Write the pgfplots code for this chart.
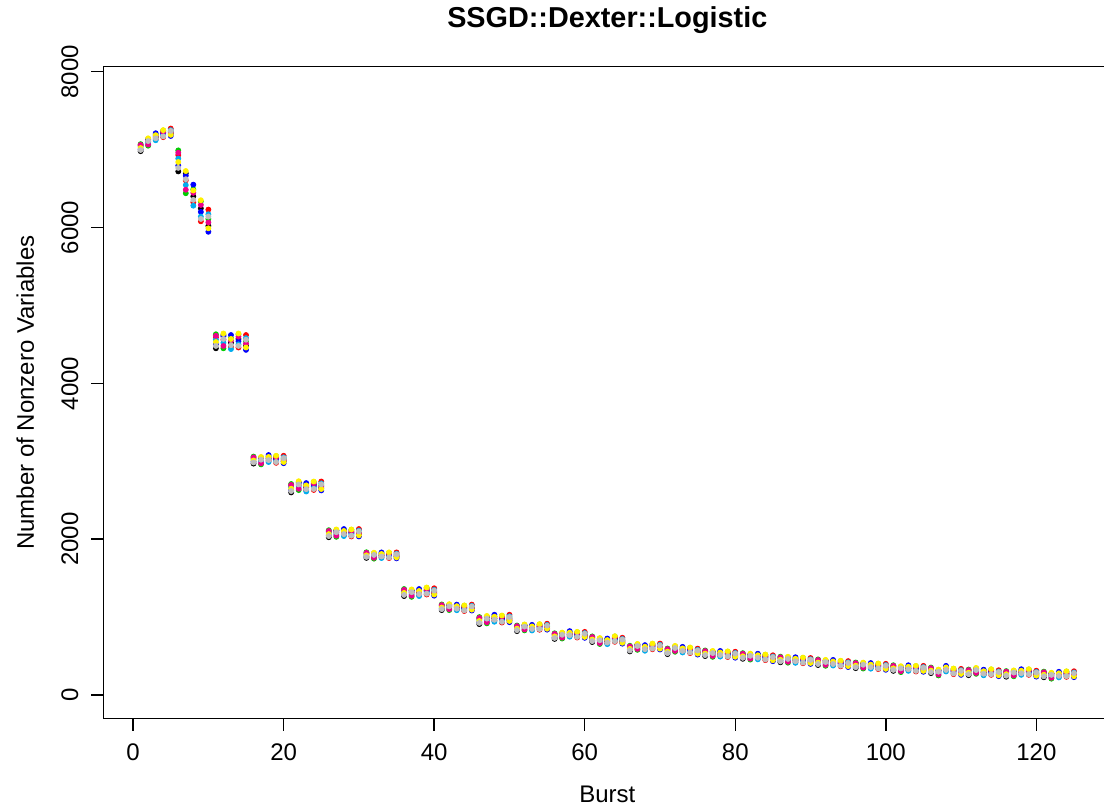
\documentclass[border=0pt]{standalone}
\usepackage{pgfplots}
\pgfplotsset{compat=1.18}
\usepackage{pgfplotstable}
\usepackage{fontspec}
\setmainfont{Liberation Sans}
\definecolor{rgreen}{HTML}{00CD00}
\definecolor{rgray}{HTML}{BEBEBE}
\pgfplotstableread{
b k r g bl c m y gr
1 6980 7050 7070 7005 7035 7060 7020 6995
2 7135 7105 7050 7125 7085 7065 7145 7110
3 7160 7135 7190 7210 7120 7175 7185 7145
4 7215 7160 7245 7200 7180 7230 7250 7170
5 7200 7270 7230 7175 7250 7215 7190 7240
6 6720 6930 6990 6795 6885 6960 6840 6765
7 6695 6605 6440 6665 6545 6485 6725 6620
8 6400 6325 6490 6550 6280 6445 6475 6355
9 6245 6080 6335 6200 6140 6290 6350 6110
10 6020 6230 6110 5945 6170 6065 5990 6140
11 4450 4590 4630 4500 4560 4610 4530 4480
12 4620 4560 4450 4600 4520 4480 4640 4570
13 4520 4470 4580 4620 4440 4550 4570 4490
14 4570 4460 4630 4540 4500 4600 4640 4480
15 4480 4620 4540 4430 4580 4510 4460 4560
16 2970 3040 3060 2995 3025 3050 3010 2985
17 3045 3015 2960 3035 2995 2975 3055 3020
18 3030 3005 3060 3080 2990 3045 3055 3015
19 3035 2980 3065 3020 3000 3050 3070 2990
20 3000 3070 3030 2975 3050 3015 2990 3040
21 2600 2684 2708 2630 2666 2696 2648 2618
22 2732 2696 2630 2720 2672 2648 2744 2702
23 2660 2630 2696 2720 2612 2678 2690 2642
24 2698 2632 2734 2680 2656 2716 2740 2644
25 2656 2740 2692 2626 2716 2674 2644 2704
26 2025 2095 2115 2050 2080 2105 2065 2040
27 2115 2085 2030 2105 2065 2045 2125 2090
28 2080 2055 2110 2130 2040 2095 2105 2065
29 2090 2035 2120 2075 2055 2105 2125 2045
30 2060 2130 2090 2035 2110 2075 2050 2100
31 1760 1816 1832 1780 1804 1824 1792 1772
32 1818 1794 1750 1810 1778 1762 1826 1798
33 1790 1770 1814 1830 1758 1802 1810 1778
34 1802 1758 1826 1790 1774 1814 1830 1766
35 1774 1830 1798 1754 1814 1786 1766 1806
36 1270 1340 1360 1295 1325 1350 1310 1285
37 1345 1315 1260 1335 1295 1275 1355 1320
38 1310 1285 1340 1360 1270 1325 1335 1295
39 1345 1290 1375 1330 1310 1360 1380 1300
40 1300 1370 1330 1275 1350 1315 1290 1340
41 1090 1146 1162 1110 1134 1154 1122 1102
42 1158 1134 1090 1150 1118 1102 1166 1138
43 1120 1100 1144 1160 1088 1132 1140 1108
44 1122 1078 1146 1110 1094 1134 1150 1086
45 1104 1160 1128 1084 1144 1116 1096 1136
46 910 980 1000 935 965 990 950 925
47 1005 975 920 995 955 935 1015 980
48 980 955 1010 1030 940 995 1005 965
49 985 930 1015 970 950 1000 1020 940
50 960 1030 990 935 1010 975 950 1000
51 820 876 892 840 864 884 852 832
52 898 874 830 890 858 842 906 878
53 860 840 884 900 828 872 880 848
54 882 838 906 870 854 894 910 846
55 859 915 883 839 899 871 851 891
56 720 776 792 740 764 784 752 732
57 793 769 725 785 753 737 801 773
58 780 760 804 820 748 792 800 768
59 782 738 806 770 754 794 810 746
60 754 810 778 734 794 766 746 786
61 680 736 752 700 724 744 712 692
62 723 699 655 715 683 667 731 703
63 685 665 709 725 653 697 705 673
64 727 683 751 715 699 739 755 691
65 679 735 703 659 719 691 671 711
66 560 616 632 580 604 624 592 572
67 648 624 580 640 608 592 656 628
68 600 580 624 640 568 612 620 588
69 632 588 656 620 604 644 660 596
70 604 660 628 584 644 616 596 636
71 525 581 597 545 569 589 557 537
72 623 599 555 615 583 567 631 603
73 578 558 602 618 546 590 598 566
74 582 538 606 570 554 594 610 546
75 539 595 563 519 579 551 531 571
76 500 556 572 520 544 564 532 512
77 558 534 490 550 518 502 566 538
78 525 505 549 565 493 537 545 513
79 532 488 556 520 504 544 560 496
80 499 555 523 479 539 511 491 531
81 465 521 537 485 509 529 497 477
82 523 499 455 515 483 467 531 503
83 490 470 514 530 458 502 510 478
84 492 448 516 480 464 504 520 456
85 454 510 478 434 494 466 446 486
86 420 476 492 440 464 484 452 432
87 483 459 415 475 443 427 491 463
88 445 425 469 485 413 457 465 433
89 452 408 476 440 424 464 480 416
90 419 475 443 399 459 431 411 451
91 385 441 457 405 429 449 417 397
92 443 419 375 435 403 387 451 423
93 410 390 434 450 378 422 430 398
94 412 368 436 400 384 424 440 376
95 379 435 403 359 419 391 371 411
96 345 401 417 365 389 409 377 357
97 408 384 340 400 368 352 416 388
98 370 350 394 410 338 382 390 358
99 377 333 401 365 349 389 405 341
100 344 400 368 324 384 356 336 376
101 310 366 382 330 354 374 342 322
102 362 338 294 354 322 306 370 342
103 342 322 366 382 310 354 362 330
104 346 302 370 334 318 358 374 310
105 318 374 342 298 358 330 310 350
106 281 337 353 301 325 345 313 293
107 319 295 251 311 279 263 327 299
108 334 314 358 374 302 346 354 322
109 312 268 336 300 284 324 340 276
110 279 335 303 259 319 291 271 311
111 255 311 327 275 299 319 287 267
112 340 316 272 332 300 284 348 320
113 285 265 309 325 253 297 305 273
114 303 259 327 291 275 315 331 267
115 262 318 286 242 302 274 254 294
116 235 291 307 255 279 299 267 247
117 308 284 240 300 268 252 316 288
118 291 271 315 331 259 303 311 279
119 303 259 327 291 275 315 331 267
120 256 312 280 236 296 268 248 288
121 228 284 300 248 272 292 260 240
122 278 254 210 270 238 222 286 258
123 258 238 282 298 226 270 278 246
124 277 233 301 265 249 289 305 241
125 249 305 273 229 289 261 241 281
}\data
\begin{document}
\begin{tikzpicture}
\useasboundingbox (0bp,0bp) rectangle (552bp,405bp);
\clip (0bp,0bp) rectangle (552bp,405bp);
\begin{axis}[
  at={(51.65bp,45.65bp)}, anchor=south west,
  scale only axis, width=504bp, height=326bp,
  xmin=-3.96, xmax=129.96, ymin=-304, ymax=8064,
  axis line style={line width=0.75bp, black},
  tick pos=left, tick align=outside,
  major tick length=6bp,
  every tick/.style={black, line width=0.75bp},
  xtick={0,20,...,120}, ytick={0,2000,4000,6000,8000},
  /pgf/number format/assume math mode=true,
  /pgf/number format/1000 sep={},
  scaled ticks=false,
  tick label style={font=\fontsize{12bp}{14bp}\selectfont, inner sep=0pt},
  xticklabel style={anchor=center, yshift=-10.7bp},
  yticklabel style={rotate=90, anchor=center, yshift=10.7bp},
  xlabel={Burst}, ylabel={Number of Nonzero Variables},
  label style={font=\fontsize{12bp}{14bp}\selectfont, inner sep=0pt},
  xlabel style={at={(axis description cs:0.5,0)}, anchor=center, yshift=-38bp},
  ylabel style={at={(axis description cs:0,0.5)}, anchor=center, yshift=39bp},
  title={SSGD::Dexter::Logistic},
  title style={font=\fontsize{14.4bp}{17bp}\selectfont\bfseries, at={(axis description cs:0.5,1)}, anchor=center, yshift=17.4bp, inner sep=0pt},
  clip=false,
  every axis plot/.append style={only marks, mark=*, mark size=1.25bp},
]
\addplot[black, mark options={fill=black, draw=black}] table[x=b,y=k]{\data};
\addplot[red, mark options={fill=red, draw=red}] table[x=b,y=r]{\data};
\addplot[rgreen, mark options={fill=rgreen, draw=rgreen}] table[x=b,y=g]{\data};
\addplot[blue, mark options={fill=blue, draw=blue}] table[x=b,y=bl]{\data};
\addplot[cyan, mark options={fill=cyan, draw=cyan}] table[x=b,y=c]{\data};
\addplot[magenta, mark options={fill=magenta, draw=magenta}] table[x=b,y=m]{\data};
\addplot[yellow, mark options={fill=yellow, draw=yellow}] table[x=b,y=y]{\data};
\addplot[rgray, mark options={fill=rgray, draw=rgray}] table[x=b,y=gr]{\data};
\end{axis}
\end{tikzpicture}
\end{document}
